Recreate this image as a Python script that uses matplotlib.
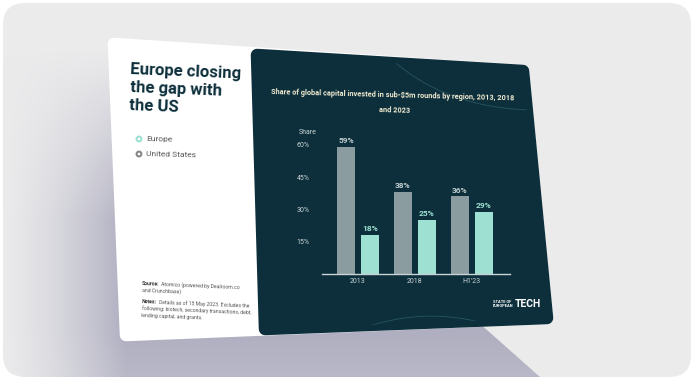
import matplotlib
matplotlib.use("Agg")
from matplotlib import pyplot as plt
from matplotlib.patches import Polygon, FancyBboxPatch, Circle
import numpy as np

plt.rcParams['font.family'] = ['Roboto', 'DejaVu Sans']

years = ['2013', '2018', "H1'23"]
us_share = [59, 38, 36]
europe_share = [18, 25, 29]
y_ticks = [15, 30, 45, 60]

dark = '#0c2f3b'
mint = '#9ee0d2'
grey = '#8b9ca1'
cream = '#f2ecd2'
label_col = '#c9d3d5'

# card corners (pixels from top-left)
card = [(114, 44), (523, 71), (547, 318), (126, 335)]
panel = [(257, 55), (523, 71), (547, 318), (265, 329)]


def bezier(p0, p1, p2, n=80):
    t = np.linspace(0, 1, n)[:, None]
    pts = (1 - t) ** 2 * np.array(p0) + 2 * (1 - t) * t * np.array(p1) + t ** 2 * np.array(p2)
    return pts[:, 0], pts[:, 1]


def label_text(bg, fig, x, y, bold, rest, size, rot):
    # bold label followed by regular text on the same (slightly rotated) line
    r = fig.canvas.get_renderer()
    t1 = bg.text(x, y, bold, fontsize=size, fontweight='bold', color='#333333',
                 rotation=0, rotation_mode='anchor', va='baseline')
    w = t1.get_window_extent(r).width
    t1.set_rotation(rot)
    th = np.deg2rad(-rot)
    lines = rest.split('\n')
    bg.text(x + (w + 1.5) * np.cos(th), y + (w + 1.5) * np.sin(th), lines[0], fontsize=size,
            color='#555555', rotation=rot, rotation_mode='anchor', va='baseline')
    for k, ln in enumerate(lines[1:], start=1):
        dy = k * 7.0
        bg.text(x - dy * np.sin(th), y + dy * np.cos(th), ln, fontsize=size,
                color='#555555', rotation=rot, rotation_mode='anchor', va='baseline')


def run():
    fig = plt.figure(figsize=(6.94, 3.80), dpi=100)
    fig.patch.set_facecolor('white')

    bg = fig.add_axes([0, 0, 1, 1])
    bg.set_xlim(0, 694)
    bg.set_ylim(380, 0)
    bg.axis('off')
    frame = FancyBboxPatch((3, 3), 688, 374, boxstyle='round,pad=0,rounding_size=22',
                           fc='#ebebec', ec='none', zorder=0.1)
    bg.add_patch(frame)

    # shadow gradient behind the card
    yy, xx = np.mgrid[0:380, 0:694]
    w = np.clip(xx / 125.0, 0, 1) ** 1.4 * np.clip((yy - 50) / 170.0, 0, 1)
    w = w * (1 - 0.15 * np.clip((yy - 330) / 47.0, 0, 1))
    base = np.array([235, 235, 236]) / 255
    shade = np.array([176, 175, 193]) / 255
    img = base[None, None, :] * (1 - w[..., None]) + shade[None, None, :] * w[..., None]
    im = bg.imshow(img, extent=(0, 694, 380, 0), interpolation='bilinear', zorder=0.5)
    shadow = Polygon([(3, 60), (114, 44), (126, 335), (478, 322), (540, 377), (24, 377),
                      (8, 371), (3, 357)], closed=True, transform=bg.transData)
    im.set_clip_path(shadow)
    bg.set_xlim(0, 694)
    bg.set_ylim(380, 0)
    bg.set_aspect('auto')

    # card
    bg.add_patch(Polygon(card, closed=True, fc='white', ec='white', lw=9, joinstyle='round',
                         zorder=1))
    dark_panel = Polygon(panel, closed=True, fc=dark, ec=dark, lw=9, joinstyle='round',
                         zorder=1.1)
    bg.add_patch(dark_panel)
    for p0, p1, p2 in [((384, 52), (440, 108), (532, 110)), ((335, 340), (420, 298), (505, 330))]:
        ax_, ay_ = bezier(p0, p1, p2)
        ln, = bg.plot(ax_, ay_, color='#24505e', lw=0.7, zorder=1.2)
        ln.set_clip_path(dark_panel)

    # left panel
    bg.text(131, 62, 'Europe closing\nthe gap with\nthe US', fontsize=12, fontweight='bold',
            color=dark, va='top', ha='left', linespacing=1.25, rotation=-2.3,
            rotation_mode='anchor')
    bg.add_patch(Circle((139, 139), 2.4, fc='none', ec=mint, lw=1.5, zorder=2))
    bg.text(146, 141.5, 'Europe', fontsize=6, color='#555555', rotation=-1.5,
            rotation_mode='anchor')
    bg.add_patch(Circle((139, 154), 2.4, fc='none', ec='#888888', lw=1.5, zorder=2))
    bg.text(146, 156.5, 'United States', fontsize=6, color='#555555', rotation=-1.5,
            rotation_mode='anchor')

    label_text(bg, fig, 142, 285, 'Source:', 'Atomico (powered by Dealroom.co\nand Crunchbase)',
               3.7, -2.3)
    label_text(bg, fig, 142, 303, 'Notes:', 'Details as of 15 May 2023. Excludes the\n'
               'following: biotech, secondary transactions, debt,\nlending capital, and grants.',
               3.7, -2.3)

    # chart title
    bg.text(393, 95, 'Share of global capital invested in sub-$5m rounds by region, 2013, 2018',
            fontsize=5.3, fontweight='bold', color=cream, ha='center', va='center',
            rotation=-1.5)
    bg.text(395, 110, 'and 2023', fontsize=5.3, fontweight='bold', color=cream,
            ha='center', va='center', rotation=-1.5)
    bg.text(299, 132, 'Share', fontsize=5, color=label_col, ha='left', va='center')

    # logo
    bg.text(493, 304, 'STATE OF\nEUROPEAN', fontsize=2.9, fontweight='bold', color='white',
            ha='left', va='center', linespacing=1.0)
    bg.text(541, 304, 'TECH', fontsize=7.5, fontweight='bold', color='white',
            ha='right', va='center')

    # bar chart
    ax = fig.add_axes([322 / 694, (380 - 274) / 380, 188 / 694, 140 / 380])
    ax.patch.set_alpha(0)
    x = np.arange(len(years))
    off = 0.21
    bw = 0.32
    ax.bar(x - off, us_share, bw, color=grey)
    ax.bar(x + off, europe_share, bw, color=mint)
    for i in range(len(years)):
        ax.text(x[i] - off, us_share[i] + 1.3, f'{us_share[i]}%', ha='center', va='bottom',
                fontsize=6, color='#c3ced1', fontweight='bold')
        ax.text(x[i] + off, europe_share[i] + 1.3, f'{europe_share[i]}%', ha='center',
                va='bottom', fontsize=6, color=mint, fontweight='bold')
    ax.set_xlim(-0.63, 2.67)
    ax.set_ylim(0, 65)
    ax.set_xticks(x)
    ax.set_xticklabels(years)
    ax.set_yticks(y_ticks)
    ax.set_yticklabels([f'{v}%' for v in y_ticks])
    ax.tick_params(axis='both', length=0, labelsize=5, colors=label_col)
    ax.tick_params(axis='y', pad=9)
    ax.tick_params(axis='x', pad=3)
    for s in ['top', 'right', 'left']:
        ax.spines[s].set_visible(False)
    ax.spines['bottom'].set_color(label_col)
    ax.spines['bottom'].set_linewidth(1.0)

    fig.savefig('out.png', dpi=100)


if __name__ == '__main__':
    run()
